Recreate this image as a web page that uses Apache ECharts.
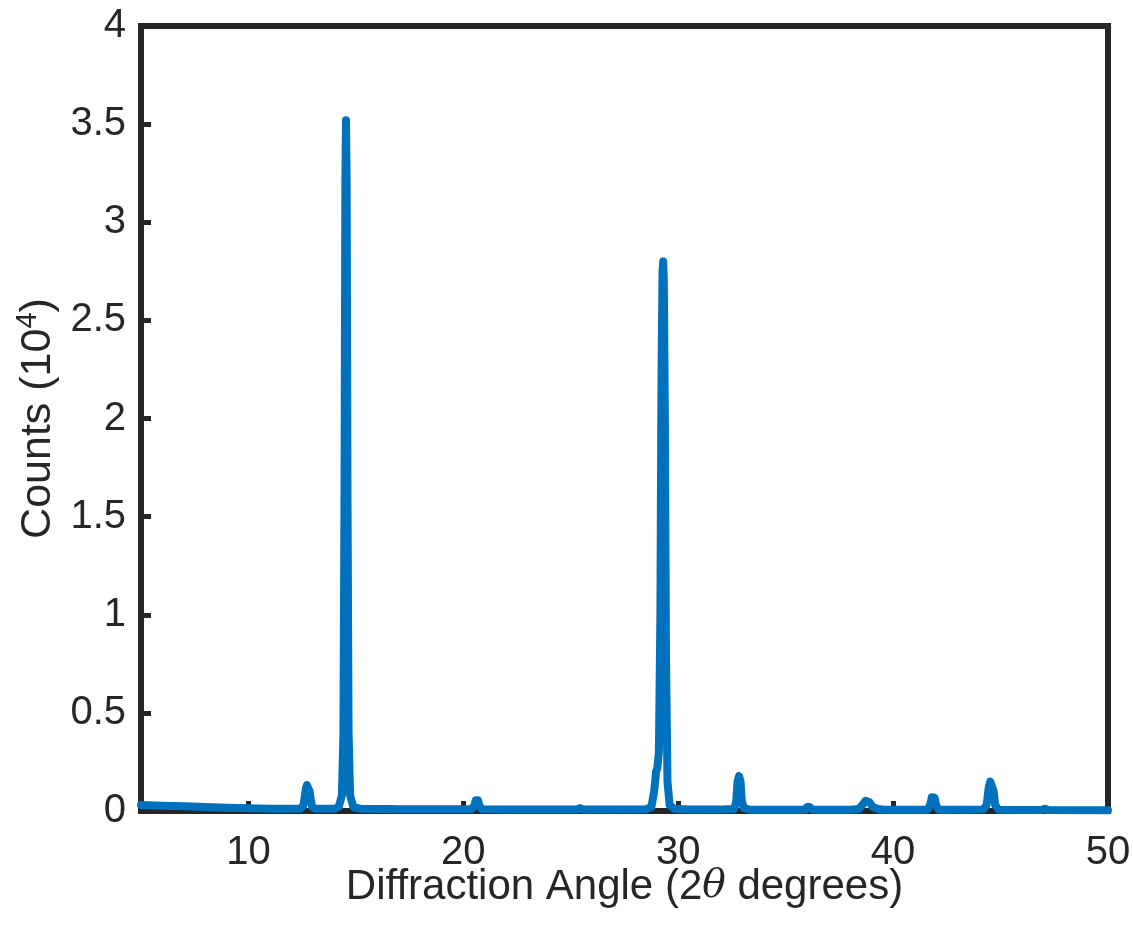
<!DOCTYPE html>
<html>
<head>
<meta charset="utf-8">
<script src="https://cdn.jsdelivr.net/npm/echarts@6/dist/echarts.min.js"></script>
<style>
html,body{margin:0;padding:0;background:#fff;}
#c{width:1133px;height:933px;}
</style>
</head>
<body>
<div id="c"></div>
<script>
// Diffraction angle (2θ, degrees)
const angle = [
  5, 6, 7, 8, 9, 10, 11, 12, 12.4,
  12.55, 12.62, 12.67, 12.72, 12.76, 12.8, 12.85, 12.9, 12.97, 13.1, 13.5,
  14.0, 14.2, 14.35, 14.42, 14.47, 14.51, 14.54, 14.57, 14.61, 14.66, 14.73, 14.88, 15.2,
  16.0, 16.35, 16.43, 16.5, 17, 18, 19, 20.4,
  20.52, 20.58, 20.63, 20.68, 20.74, 20.85, 22, 24, 25.3, 25.43, 25.55, 27, 28.5,
  28.75, 28.88, 28.97, 29.03, 29.1, 29.17, 29.22, 29.27, 29.3, 29.33, 29.38, 29.43, 29.5, 29.6, 29.8,
  30.5, 32, 32.6, 32.7, 32.76, 32.83, 32.9, 32.96, 33.05, 33.18, 33.3,
  35, 35.9, 36.0, 36.06, 36.12, 36.25, 38, 38.4, 38.6, 38.72, 38.8, 38.9, 39.05, 39.3, 39.6,
  41.6, 41.72, 41.8, 41.86, 41.93, 42.0, 42.12,
  44.2, 44.35, 44.45, 44.52, 44.6, 44.68, 44.75, 44.9, 46.9, 47.07, 47.2, 50
];
// Counts (×10^4)
const counts = [
  0.030, 0.027, 0.024, 0.020, 0.017, 0.014, 0.012, 0.011, 0.011,
  0.025, 0.070, 0.115, 0.132, 0.135, 0.128, 0.100, 0.055, 0.020, 0.012, 0.011,
  0.012, 0.020, 0.080, 0.400, 1.600, 3.200, 3.520, 3.200, 1.600, 0.400, 0.080, 0.020, 0.012,
  0.010, 0.010, 0.018, 0.010, 0.009, 0.009, 0.009, 0.009,
  0.030, 0.055, 0.060, 0.055, 0.030, 0.009, 0.008, 0.008, 0.008, 0.015, 0.008, 0.008, 0.009,
  0.020, 0.100, 0.200, 0.220, 0.300, 1.000, 2.200, 2.750, 2.800, 2.700, 2.000, 0.800, 0.150, 0.030, 0.012,
  0.008, 0.008, 0.010, 0.050, 0.150, 0.178, 0.150, 0.050, 0.015, 0.012, 0.007,
  0.006, 0.006, 0.020, 0.030, 0.020, 0.006, 0.006, 0.010, 0.035, 0.052, 0.055, 0.045, 0.020, 0.010, 0.006,
  0.006, 0.030, 0.070, 0.075, 0.068, 0.030, 0.006,
  0.008, 0.030, 0.120, 0.150, 0.148, 0.100, 0.030, 0.006, 0.005, 0.012, 0.005, 0.004
];
const xTickValues = [10, 20, 30, 40];
const xLabelValues = [10, 20, 30, 40, 50];

const points = angle.map((a, i) => [a, counts[i]]);
const FONT = 'Liberation Sans, Arial, sans-serif';
const INK = '#262626';

const chart = echarts.init(document.getElementById('c'));
chart.setOption({
  animation: false,
  grid: {
    left: 141, top: 26, width: 967, height: 785,
    outerBoundsMode: 'none', containLabel: false,
    show: true, borderColor: INK, borderWidth: 6, backgroundColor: 'transparent'
  },
  xAxis: {
    type: 'value', min: 5, max: 50,
    axisLine: { show: false },
    splitLine: { show: false },
    axisTick: { show: true, inside: true, length: 10, customValues: xTickValues,
      lineStyle: { color: INK, width: 5 } },
    axisLabel: { customValues: xLabelValues, margin: 22, color: INK,
      fontFamily: FONT, fontSize: 40 },
    name: 'Diffraction Angle (2{i|θ} degrees)',
    nameLocation: 'middle', nameGap: 55, nameMoveOverlap: false,
    nameTextStyle: { color: INK, fontFamily: FONT, fontSize: 42,
      rich: { i: { fontStyle: 'italic', fontFamily: 'DejaVu Serif, serif', fontSize: 39, color: INK } } }
  },
  yAxis: {
    type: 'value', min: 0, max: 4, interval: 0.5,
    axisLine: { show: false },
    splitLine: { show: false },
    axisTick: { show: true, inside: true, length: 10,
      lineStyle: { color: INK, width: 5 } },
    axisLabel: { margin: 15, color: INK, fontFamily: FONT, fontSize: 40 },
    name: 'Counts (10{sup|4})',
    nameLocation: 'middle', nameGap: 77, nameMoveOverlap: false,
    nameTextStyle: { color: INK, fontFamily: FONT, fontSize: 43,
      rich: { sup: { fontSize: 29, fontFamily: FONT, color: INK, verticalAlign: 'top', padding: [0, 0, 22, 0] } } }
  },
  series: [{
    type: 'line',
    data: points,
    showSymbol: false,
    symbol: 'none',
    clip: true,
    lineStyle: { color: '#0072BD', width: 8, cap: 'round', join: 'round' },
    z: 1
  }]
});
</script>
</body>
</html>
